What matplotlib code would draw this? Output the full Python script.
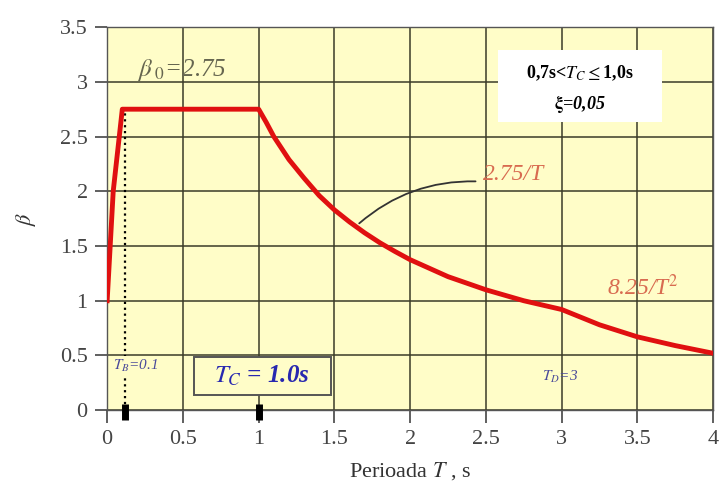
import numpy as np
import matplotlib.pyplot as plt
from matplotlib.patches import FancyBboxPatch

plt.rcParams['font.family'] = ['Liberation Serif', 'DejaVu Serif']
plt.rcParams['mathtext.fontset'] = 'stix'

# spectrum beta(T), points
period = [0.0, 0.04, 0.10, 0.4, 0.7, 1.0, 1.05, 1.1, 1.2, 1.3, 1.4, 1.5, 1.6, 1.7, 1.8,
          1.9, 2.0, 2.25, 2.5, 2.75, 3.0, 3.25, 3.5, 3.75, 4.0]
beta = [1.0, 2.0, 2.75, 2.75, 2.75, 2.75, 2.63, 2.50, 2.29, 2.12, 1.96, 1.83, 1.72,
        1.62, 1.53, 1.45, 1.375, 1.22, 1.10, 1.00, 0.92, 0.78, 0.67, 0.59, 0.52]

x_ticks = [0, 0.5, 1, 1.5, 2, 2.5, 3, 3.5, 4]
y_ticks = [0, 0.5, 1, 1.5, 2, 2.5, 3, 3.5]
x_tick_labels = ['0', '0.5', '1', '1.5', '2', '2.5', '3', '3.5', '4']
y_tick_labels = ['0', '0.5', '1', '1.5', '2', '2.5', '3', '3.5']

bg = '#fffdc8'

fig = plt.figure(figsize=(7.24, 4.93), dpi=100)
ax = fig.add_axes([0.148, 0.168, 0.837, 0.777])
ax.set_facecolor(bg)

ax.set_xlim(0, 4)
ax.set_ylim(0, 3.5)
ax.set_xticks(x_ticks)
ax.set_xticklabels(x_tick_labels)
ax.set_yticks(y_ticks)
ax.set_yticklabels(y_tick_labels)
ax.tick_params(labelsize=16, colors='#444444', length=9, width=1.2, pad=5)
ax.grid(True, color='#3b3b28', linewidth=1.1)
ax.set_axisbelow(True)
for s in ax.spines.values():
    s.set_color('#555555')
    s.set_linewidth(1.0)

# main curve
ax.plot(period, beta, color='#e01010', linewidth=3.5, solid_joinstyle='round', zorder=4)

# dotted line at T_B and marks on the T axis
ax.plot([0.12, 0.12], [0, 2.75], color='black', linestyle=':', linewidth=1.6, zorder=3)
ax.plot([0.12, 1.0], [-0.02, -0.02], linestyle='none', marker='|', markersize=11,
        markeredgewidth=5, color='black', zorder=5, clip_on=False)

ax.text(0.2, 3.05, r'$\beta_{\ 0}$=2.75', fontsize=18, color='#666650', style='italic')

# info box top right
box = FancyBboxPatch((2.58, 2.63), 1.08, 0.66, boxstyle='square,pad=0',
                     facecolor='white', edgecolor='none', zorder=3)
ax.add_patch(box)
ax.text(3.12, 3.08, r'0,7s<$\mathbf{\mathit{T_C}}$$\leq$1,0s', fontsize=13,
        fontweight='bold', ha='center', va='center', zorder=4)
ax.text(3.12, 2.8, r'$\mathbf{\xi}$=0,05', fontsize=13, fontweight='bold',
        style='italic', ha='center', va='center', zorder=4)

ax.text(2.48, 2.1, '2.75/T', fontsize=17, color='#d86b50', style='italic', zorder=4)
ax.annotate('', xy=(1.65, 1.69), xytext=(2.45, 2.09),
            arrowprops=dict(arrowstyle='-', color='#333333', lw=1.3,
                            connectionstyle='arc3,rad=0.2'))
ax.text(3.3, 1.05, r'8.25/T$^2$', fontsize=17, color='#d86b50', style='italic', zorder=4)

# period labels
ax.text(0.04, 0.37, r'$T_B$=0.1', fontsize=11, color='#4a4a9a', style='italic', zorder=4,
        bbox=dict(facecolor=bg, edgecolor='none', pad=1))
ax.text(2.87, 0.27, r'$T_D$=3', fontsize=11, color='#4a4a9a', style='italic', zorder=4)
tc_box = FancyBboxPatch((0.57, 0.14), 0.91, 0.35, boxstyle='square,pad=0',
                        facecolor=bg, edgecolor='#555555', linewidth=1.4, zorder=3)
ax.add_patch(tc_box)
ax.text(1.02, 0.31, r'$\mathbf{\mathit{T_C}}$ = 1.0s', fontsize=18, color='#2828b0',
        fontweight='bold', style='italic', ha='center', va='center', zorder=4)

ax.set_xlabel('Perioada $T$ , s', fontsize=16, color='#333333', labelpad=8)
ax.set_ylabel(r'$\beta$', fontsize=16, color='#333333', labelpad=16)

fig.savefig('out.png', dpi=100)
